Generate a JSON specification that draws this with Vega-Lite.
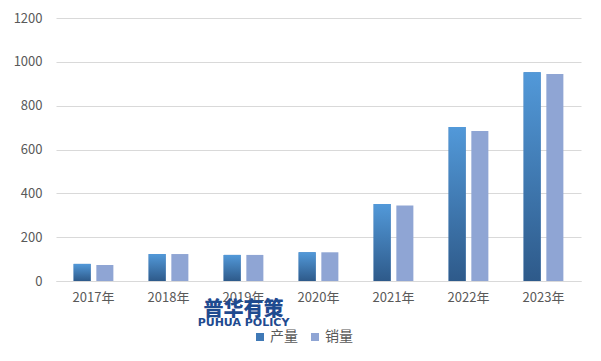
{
  "$schema": "https://vega.github.io/schema/vega-lite/v6.json",
  "autosize": {"type": "none"},
  "width": 525,
  "height": 263,
  "padding": {"left": 56, "top": 18, "right": 20, "bottom": 80},
  "background": "white",
  "config": {
    "view": {"stroke": null},
    "font": "Noto Sans CJK SC",
    "axis": {"labelFont": "Noto Sans CJK SC", "labelColor": "#595959", "labelFontSize": 13}
  },
  "datasets": {
    "bars": [
      {"year": "2017年", "series": "产量", "value": 78},
      {"year": "2017年", "series": "销量", "value": 73},
      {"year": "2018年", "series": "产量", "value": 123},
      {"year": "2018年", "series": "销量", "value": 123},
      {"year": "2019年", "series": "产量", "value": 119},
      {"year": "2019年", "series": "销量", "value": 119},
      {"year": "2020年", "series": "产量", "value": 131},
      {"year": "2020年", "series": "销量", "value": 131},
      {"year": "2021年", "series": "产量", "value": 351},
      {"year": "2021年", "series": "销量", "value": 345},
      {"year": "2022年", "series": "产量", "value": 703},
      {"year": "2022年", "series": "销量", "value": 684},
      {"year": "2023年", "series": "产量", "value": 953},
      {"year": "2023年", "series": "销量", "value": 944}
    ],
    "mark1": [{"year": "2019年", "label": "普华有策", "value": -132}],
    "mark2": [{"year": "2019年", "label": "PUHUA POLICY", "value": -192}]
  },
  "encoding": {
    "x": {
      "field": "year", "type": "nominal", "sort": null,
      "scale": {"paddingInner": 0.47, "paddingOuter": 0.235},
      "axis": {"title": null, "labelAngle": 0, "ticks": false, "domainColor": "#d9d9d9", "labelPadding": 10, "grid": false}
    },
    "y": {
      "field": "value", "type": "quantitative",
      "scale": {"domain": [0, 1200], "nice": false},
      "axis": {"title": null, "values": [0, 200, 400, 600, 800, 1000, 1200], "format": "d", "ticks": false, "domain": false, "gridColor": "#d9d9d9", "labelPadding": 14}
    }
  },
  "layer": [
    {
      "data": {"name": "bars"},
      "mark": {"type": "bar"},
      "encoding": {
        "xOffset": {"field": "series", "type": "nominal", "scale": {"paddingInner": 0.25}},
        "color": {
          "field": "series", "type": "nominal",
          "scale": {"domain": ["产量", "销量"], "range": ["#3f79b6", "#8fa5d4"]},
          "legend": {
            "title": null, "orient": "none", "direction": "horizontal",
            "legendX": 197, "legendY": 312,
            "symbolType": "square", "symbolSize": 64, "symbolStrokeWidth": 0,
            "labelFontSize": 14, "labelColor": "#595959", "labelFont": "Noto Sans CJK SC",
            "columnPadding": 10, "labelOffset": 3
          }
        }
      }
    },
    {
      "data": {"name": "bars"},
      "transform": [{"filter": "datum.series === '产量'"}],
      "mark": {
        "type": "bar",
        "color": {"gradient": "linear", "x1": 0, "y1": 0, "x2": 0, "y2": 1, "stops": [{"offset": 0, "color": "#5299d9"}, {"offset": 1, "color": "#2e5a8a"}]}
      },
      "encoding": {
        "xOffset": {"field": "series", "type": "nominal"}
      }
    },
    {
      "data": {"name": "mark1"},
      "mark": {"type": "text", "font": "Noto Sans CJK SC", "fontWeight": 900, "fontSize": 20, "color": "#1f4a8f", "baseline": "middle", "clip": false},
      "encoding": {"text": {"field": "label"}}
    },
    {
      "data": {"name": "mark2"},
      "mark": {"type": "text", "font": "DejaVu Sans", "fontWeight": "bold", "fontSize": 11, "color": "#1f4a8f", "baseline": "middle", "clip": false},
      "encoding": {"text": {"field": "label"}}
    }
  ]
}
